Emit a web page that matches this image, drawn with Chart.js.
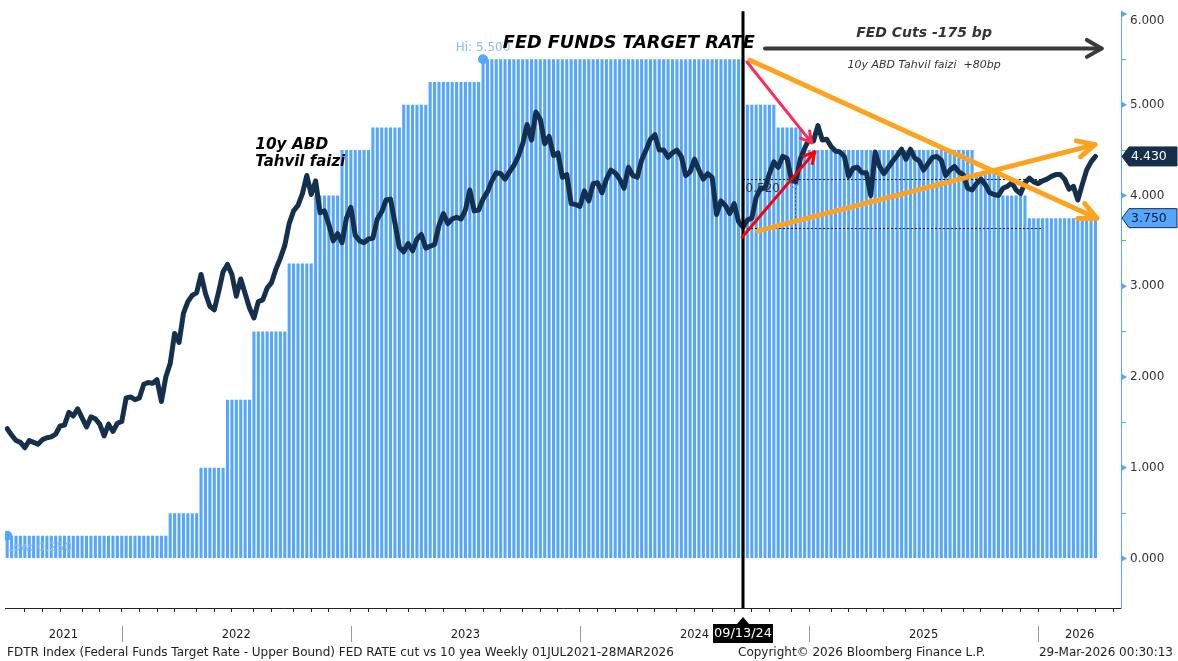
<!DOCTYPE html>
<html>
<head>
<meta charset="utf-8">
<title>FED RATE cut vs 10y</title>
<script src="https://cdn.jsdelivr.net/npm/chart.js@4.4.1/dist/chart.umd.min.js"></script>
<style>
  html, body { margin: 0; padding: 0; background: #fff; overflow: hidden; }
  #chart { display: block; }
</style>
</head>
<body>
<canvas id="chart" width="1178" height="661"></canvas>
<script>
// FDTR (upper bound) vs US 10y yield, weekly. Index 0 = 02JUL2021, index 247 = 27MAR2026

// Fed funds target rate - upper bound, one value per week
const FDTR_2021 = [
  0.25, 0.25, 0.25, 0.25, 0.25, 0.25, 0.25, 0.25, 0.25,
  0.25, 0.25, 0.25, 0.25, 0.25, 0.25, 0.25, 0.25, 0.25,
  0.25, 0.25, 0.25, 0.25, 0.25, 0.25, 0.25, 0.25, 0.25
];
const FDTR_2022 = [
  0.25, 0.25, 0.25, 0.25, 0.25, 0.25, 0.25, 0.25, 0.25, 0.25,
  0.5, 0.5, 0.5, 0.5, 0.5, 0.5, 0.5,
  1, 1, 1, 1, 1, 1,
  1.75, 1.75, 1.75, 1.75, 1.75, 1.75,
  2.5, 2.5, 2.5, 2.5, 2.5, 2.5, 2.5, 2.5,
  3.25, 3.25, 3.25, 3.25, 3.25, 3.25,
  4, 4, 4, 4, 4, 4,
  4.5, 4.5, 4.5
];
const FDTR_2023 = [
  4.5, 4.5, 4.5, 4.5,
  4.75, 4.75, 4.75, 4.75, 4.75, 4.75, 4.75,
  5, 5, 5, 5, 5, 5,
  5.25, 5.25, 5.25, 5.25, 5.25, 5.25, 5.25, 5.25, 5.25, 5.25, 5.25, 5.25,
  5.5, 5.5, 5.5, 5.5, 5.5, 5.5, 5.5, 5.5, 5.5, 5.5,
  5.5, 5.5, 5.5, 5.5, 5.5, 5.5, 5.5, 5.5, 5.5, 5.5,
  5.5, 5.5, 5.5
];
const FDTR_2024 = [
  5.5, 5.5, 5.5, 5.5, 5.5, 5.5, 5.5, 5.5, 5.5, 5.5,
  5.5, 5.5, 5.5, 5.5, 5.5, 5.5, 5.5, 5.5, 5.5, 5.5,
  5.5, 5.5, 5.5, 5.5, 5.5, 5.5, 5.5, 5.5, 5.5, 5.5,
  5.5, 5.5, 5.5, 5.5, 5.5, 5.5, 5.5,
  5, 5, 5, 5, 5, 5, 5,
  4.75, 4.75, 4.75, 4.75, 4.75, 4.75,
  4.5, 4.5
];
const FDTR_2025 = [
  4.5, 4.5, 4.5, 4.5, 4.5, 4.5, 4.5, 4.5, 4.5, 4.5,
  4.5, 4.5, 4.5, 4.5, 4.5, 4.5, 4.5, 4.5, 4.5, 4.5,
  4.5, 4.5, 4.5, 4.5, 4.5, 4.5, 4.5, 4.5, 4.5, 4.5,
  4.5, 4.5, 4.5, 4.5, 4.5, 4.5, 4.5,
  4.25, 4.25, 4.25, 4.25, 4.25, 4.25,
  4, 4, 4, 4, 4, 4,
  3.75, 3.75, 3.75
];
const FDTR_2026 = [3.75, 3.75, 3.75, 3.75, 3.75, 3.75, 3.75, 3.75, 3.75, 3.75, 3.75, 3.75, 3.75];

// 10y US Treasury yield ("10y ABD Tahvil faizi"), weekly close
const UST10Y_2021 = [
  1.43, 1.36, 1.30, 1.28, 1.22, 1.30, 1.28, 1.26, 1.31, 1.33, 1.34, 1.37, 1.46, 1.47,
  1.61, 1.57, 1.65, 1.55, 1.45, 1.56, 1.54, 1.48, 1.35, 1.48, 1.40, 1.49, 1.51
];
const UST10Y_2022 = [
  1.77, 1.78, 1.75, 1.77, 1.92, 1.94, 1.93, 1.97, 1.73, 2.00, 2.15, 2.48, 2.38,
  2.70, 2.83, 2.90, 2.93, 3.13, 2.92, 2.78, 2.74, 2.94, 3.16, 3.24, 3.13, 2.89,
  3.08, 2.92, 2.76, 2.65, 2.83, 2.85, 2.98, 3.04, 3.19, 3.31, 3.45, 3.69, 3.83,
  3.89, 4.02, 4.22, 4.01, 4.16, 3.81, 3.83, 3.68, 3.50, 3.58, 3.48, 3.75, 3.87
];
const UST10Y_2023 = [
  3.56, 3.50, 3.48, 3.52, 3.53, 3.74, 3.82, 3.95, 3.96, 3.70, 3.43, 3.38, 3.47,
  3.39, 3.52, 3.57, 3.42, 3.44, 3.46, 3.67, 3.80, 3.69, 3.74, 3.76, 3.74, 3.84,
  4.06, 3.83, 3.84, 3.96, 4.04, 4.16, 4.25, 4.24, 4.18, 4.26, 4.33, 4.43, 4.57,
  4.78, 4.61, 4.92, 4.84, 4.57, 4.65, 4.44, 4.47, 4.20, 4.23, 3.91, 3.90, 3.88
];
const UST10Y_2024 = [
  4.05, 3.94, 4.13, 4.14, 4.03, 4.18, 4.28, 4.25, 4.18, 4.08, 4.31, 4.22, 4.20,
  4.39, 4.50, 4.62, 4.67, 4.50, 4.50, 4.42, 4.47, 4.50, 4.43, 4.22, 4.26, 4.40,
  4.28, 4.18, 4.24, 4.20, 3.79, 3.94, 3.89, 3.80, 3.91, 3.71, 3.65, 3.73, 3.75,
  3.98, 4.08, 4.08, 4.24, 4.37, 4.31, 4.43, 4.41, 4.17, 4.15, 4.40, 4.52, 4.62
];
const UST10Y_2025 = [
  4.60, 4.77, 4.61, 4.62, 4.54, 4.49, 4.48, 4.43, 4.21, 4.30, 4.31, 4.25, 4.25,
  4.00, 4.48, 4.32, 4.24, 4.31, 4.38, 4.44, 4.51, 4.40, 4.51, 4.41, 4.38, 4.28,
  4.35, 4.42, 4.43, 4.39, 4.22, 4.28, 4.32, 4.26, 4.23, 4.08, 4.06, 4.13, 4.18,
  4.12, 4.03, 4.01, 4.00, 4.08, 4.10, 4.14, 4.06, 4.02, 4.14, 4.19, 4.15, 4.13
];
const UST10Y_2026 = [4.16, 4.18, 4.21, 4.23, 4.23, 4.18, 4.07, 4.10, 3.95, 4.12, 4.28, 4.37, 4.43];

const FDTR = [].concat(FDTR_2021, FDTR_2022, FDTR_2023, FDTR_2024, FDTR_2025, FDTR_2026);
const UST10Y = [].concat(UST10Y_2021, UST10Y_2022, UST10Y_2023, UST10Y_2024, UST10Y_2025, UST10Y_2026);

// x axis: month-end weeks (tick marks), year labels and year breaks, in week index
const MONTH_TICKS = [4, 8, 12, 17, 21, 26, 30, 34, 38, 43, 47, 51, 56, 60, 65, 69, 73, 78,
  82, 86, 91, 95, 99, 104, 108, 112, 117, 121, 125, 130, 134, 138, 143, 147, 152, 156,
  160, 165, 169, 173, 178, 182, 187, 191, 195, 199, 204, 208, 212, 217, 221, 226, 230,
  234, 239, 243, 247, 251];
const YEAR_LABELS = ['2021', '2022', '2023', '2024', '2025', '2026'];
const YEAR_LABEL_POS = [12.75, 52, 104, 156, 208, 243.4];
const YEAR_BREAKS = [26, 78, 130, 182, 234];
const Y_TICKS = [0, 0.5, 1, 1.5, 2, 2.5, 3, 3.5, 4, 4.5, 5, 5.5, 6];
const Y_TOP_LABEL = 6;      // drawn slightly below its tick, as Bloomberg does

const HI_POINT = { x: 108, y: 5.5 };
const LOW_POINT = { x: 0, y: 0.25 };
const CUT_WEEK = 167;       // 09/13/24
const CUT_LABEL = '09/13/24';
const LAST_YIELD = 4.43;
const LAST_FDTR = 3.75;

const NAVY = '#14304c';
const BLUE = '#55a6ff';
const ORANGE = '#ffa31f';
const FONT = '"DejaVu Sans"';

function arrow(ctx, x1, y1, x2, y2, color, width, head, spread) {
  ctx.save();
  ctx.strokeStyle = color;
  ctx.lineWidth = width;
  ctx.lineCap = 'round';
  ctx.lineJoin = 'round';
  ctx.beginPath();
  ctx.moveTo(x1, y1);
  ctx.lineTo(x2, y2);
  ctx.stroke();
  const a = Math.atan2(y2 - y1, x2 - x1);
  ctx.beginPath();
  ctx.moveTo(x2 - head * Math.cos(a - spread), y2 - head * Math.sin(a - spread));
  ctx.lineTo(x2, y2);
  ctx.lineTo(x2 - head * Math.cos(a + spread), y2 - head * Math.sin(a + spread));
  ctx.stroke();
  ctx.restore();
}

function text(ctx, str, x, y, font, color, align, maxW) {
  ctx.font = font;
  ctx.fillStyle = color;
  ctx.textAlign = align || 'left';
  ctx.textBaseline = 'middle';
  if (maxW) ctx.fillText(str, x, y, maxW);
  else ctx.fillText(str, x, y);
}

function valueTag(ctx, left, yPix, str, bg, fg) {
  const h = 19, right = 1177;
  ctx.save();
  ctx.beginPath();
  ctx.moveTo(left, yPix);
  ctx.lineTo(left + 7, yPix - h / 2);
  ctx.lineTo(right, yPix - h / 2);
  ctx.lineTo(right, yPix + h / 2);
  ctx.lineTo(left + 7, yPix + h / 2);
  ctx.closePath();
  ctx.fillStyle = bg;
  ctx.fill();
  ctx.strokeStyle = '#1d2d40';
  ctx.lineWidth = 1;
  ctx.stroke();
  text(ctx, str, left + 9, yPix + 0.5, '12.5px ' + FONT, fg, 'left');
  ctx.restore();
}

const annotations = {
  id: 'annotations',
  afterDatasetDraw(chart, args) {
    // Bloomberg measuring lines: above the bars, below the yield line
    if (args.meta.type !== 'bar') return;
    const { ctx } = chart;
    const x = v => chart.scales.x.getPixelForValue(v);
    const y = v => chart.scales.y.getPixelForValue(v);
    ctx.save();
    ctx.strokeStyle = '#111';
    ctx.lineWidth = 1;
    ctx.setLineDash([2, 2]);
    ctx.beginPath();
    ctx.moveTo(x(167), Math.round(y(4.18)) + 0.5);
    ctx.lineTo(x(235.1), Math.round(y(4.18)) + 0.5);
    ctx.moveTo(x(167), Math.round(y(3.64)) + 0.5);
    ctx.lineTo(x(235.1), Math.round(y(3.64)) + 0.5);
    ctx.stroke();
    ctx.strokeStyle = '#555';
    ctx.beginPath();
    ctx.moveTo(Math.round(x(178.8)) + 0.5, y(4.08));
    ctx.lineTo(Math.round(x(178.8)) + 0.5, y(3.64));
    ctx.stroke();
    ctx.beginPath();
    ctx.ellipse(x(178.8), y(4.13), 3, 5, 0, 0, Math.PI * 2);
    ctx.stroke();
    ctx.restore();
    text(ctx, '0.520', x(167.6), y(4.07), '12px ' + FONT, '#333', 'left');
  },
  afterDatasetsDraw(chart) {
    const { ctx, chartArea } = chart;
    const x = v => chart.scales.x.getPixelForValue(v);
    const y = v => chart.scales.y.getPixelForValue(v);

    // Hi / Low markers text
    text(ctx, 'Hi: 5.500', x(HI_POINT.x), y(HI_POINT.y) - 11, '12px ' + FONT, '#86bdf6', 'center');
    text(ctx, 'Low: 0.250', x(LOW_POINT.x) - 0.5, y(LOW_POINT.y) + 12, '12px ' + FONT, '#8dbef3', 'left');

    // vertical marker on the first cut
    ctx.save();
    ctx.fillStyle = '#000';
    ctx.fillRect(Math.round(x(CUT_WEEK)) - 1.5, chartArea.top, 3, chartArea.bottom - chartArea.top);
    ctx.restore();

    // arrows
    arrow(ctx, x(172), y(5.62), x(248.4), y(5.62), '#3a3a3a', 4, 17, 0.52);
    arrow(ctx, x(168.6), y(5.49), x(247.3), y(3.75), ORANGE, 5, 19, 0.45);
    arrow(ctx, x(170.4), y(3.61), x(246.9), y(4.56), ORANGE, 5, 19, 0.45);
    arrow(ctx, x(167.9), y(5.47), x(182.6), y(4.58), '#ff2b52', 3, 12, 0.5);
    arrow(ctx, x(166.8), y(3.54), x(183.3), y(4.48), '#ff0000', 3, 12, 0.5);

    // labels
    text(ctx, 'FED FUNDS TARGET RATE', x(141.1), y(5.68), 'italic bold 18px ' + FONT, '#000', 'center', 252);
    text(ctx, 'FED Cuts -175 bp', x(208.1), y(5.79), 'italic bold 14px ' + FONT, '#333', 'center', 138);
    text(ctx, '10y ABD Tahvil faizi  +80bp', x(208.1), y(5.44), 'italic 11px ' + FONT, '#333', 'center', 168);
    text(ctx, '10y ABD', x(56.3), y(4.56), 'italic bold 16px ' + FONT, '#000', 'left', 73);
    text(ctx, 'Tahvil faizi', x(56.3), y(4.37), 'italic bold 16px ' + FONT, '#000', 'left', 90);
  },
  afterDraw(chart) {
    const { ctx, chartArea } = chart;
    const x = v => chart.scales.x.getPixelForValue(v);
    const y = v => chart.scales.y.getPixelForValue(v);

    // year separators under the axis
    ctx.save();
    ctx.strokeStyle = '#9a9a9a';
    ctx.lineWidth = 1;
    YEAR_BREAKS.forEach(w => {
      const px = Math.round(x(w)) + 0.5;
      ctx.beginPath();
      ctx.moveTo(px, chartArea.bottom + 18);
      ctx.lineTo(px, chartArea.bottom + 34);
      ctx.stroke();
    });

    // right axis major tick arrows
    ctx.fillStyle = BLUE;
    Y_TICKS.filter(v => Number.isInteger(v)).forEach(v => {
      const py = y(v);
      ctx.beginPath();
      ctx.moveTo(chartArea.right, py - 3.5);
      ctx.lineTo(chartArea.right + 6, py);
      ctx.lineTo(chartArea.right, py + 3.5);
      ctx.closePath();
      ctx.fill();
    });
    ctx.restore();
    text(ctx, Y_TOP_LABEL.toFixed(3), chartArea.right + 9, y(Y_TOP_LABEL) + 6.5, '12px ' + FONT, '#333', 'left');

    // last value tags
    valueTag(ctx, chartArea.right + 1, y(LAST_YIELD), LAST_YIELD.toFixed(3), NAVY, '#fff');
    valueTag(ctx, chartArea.right + 1, y(LAST_FDTR), LAST_FDTR.toFixed(3), BLUE, '#0b1a2e');

    // date tag on the x axis
    const cx = Math.round(x(CUT_WEEK));
    const top = chartArea.bottom + 16;
    ctx.save();
    ctx.fillStyle = '#000';
    ctx.beginPath();
    ctx.moveTo(cx - 6, top);
    ctx.lineTo(cx, top - 7);
    ctx.lineTo(cx + 6, top);
    ctx.closePath();
    ctx.fill();
    ctx.fillRect(cx - 30, top, 60, 19);
    ctx.restore();
    text(ctx, CUT_LABEL, cx, top + 10, '13px ' + FONT, '#fff', 'center', 58);

    // footer
    const fy = 653;
    text(ctx, 'FDTR Index (Federal Funds Target Rate - Upper Bound) FED RATE cut vs 10 yea Weekly 01JUL2021-28MAR2026',
      7, fy, '12px ' + FONT, '#222', 'left', 685);
    text(ctx, 'Copyright\u00A9 2026 Bloomberg Finance L.P.', 738, fy, '12px ' + FONT, '#222', 'left', 250);
    text(ctx, '29-Mar-2026 00:30:13', 1173, fy, '12px ' + FONT, '#222', 'right', 137);
  }
};

Chart.defaults.font.family = FONT;

new Chart(document.getElementById('chart'), {
  type: 'bar',
  data: {
    datasets: [
      {
        type: 'line',
        label: '10y',
        data: UST10Y.map((v, i) => ({ x: i, y: v })),
        borderColor: NAVY,
        borderWidth: 5,
        borderJoinStyle: 'round',
        borderCapStyle: 'round',
        pointRadius: 0,
        tension: 0,
        order: 0
      },
      {
        type: 'line',
        label: 'Hi/Low',
        data: [HI_POINT, LOW_POINT],
        showLine: false,
        pointRadius: 5,
        pointBorderWidth: 0,
        pointBackgroundColor: BLUE,
        order: 1
      },
      {
        type: 'bar',
        label: 'FDTR',
        data: FDTR.map((v, i) => ({ x: i, y: v })),
        backgroundColor: BLUE,
        borderWidth: 0,
        barPercentage: 0.7,
        categoryPercentage: 1,
        order: 2
      }
    ]
  },
  options: {
    responsive: false,
    animation: false,
    events: [],
    layout: { padding: { left: 5, top: 9, right: 0, bottom: 0 } },
    plugins: { legend: { display: false }, tooltip: { enabled: false } },
    scales: {
      x: {
        type: 'linear',
        min: -0.5,
        max: 252.8,
        offset: false,
        afterBuildTicks: scale => {
          scale.ticks = MONTH_TICKS.map(v => ({ value: v }))
            .concat(YEAR_LABEL_POS.map((v, i) => ({ value: v, year: YEAR_LABELS[i] })));
        },
        afterFit: scale => { scale.height = 53; },
        grid: {
          drawOnChartArea: false,
          offset: false,
          tickLength: 4,
          tickColor: c => (c.tick && c.tick.year ? 'rgba(0,0,0,0)' : '#222')
        },
        border: { color: '#222', width: 1 },
        ticks: {
          autoSkip: false,
          maxRotation: 0,
          minRotation: 0,
          padding: 16,
          color: '#1a1a1a',
          font: { size: 11.5 },
          callback: (v, i, ticks) => ticks[i].year || ''
        }
      },
      y: {
        position: 'right',
        min: -0.545,
        max: 6.03,
        afterBuildTicks: scale => { scale.ticks = Y_TICKS.map(v => ({ value: v })); },
        afterFit: scale => { scale.width = 57; },
        grid: { drawOnChartArea: false, tickLength: 5, tickColor: BLUE },
        border: { color: BLUE, width: 1 },
        ticks: {
          padding: 4,
          color: '#333',
          font: { size: 12 },
          callback: v => (Number.isInteger(v) && v !== Y_TOP_LABEL ? v.toFixed(3) : '')
        }
      }
    }
  },
  plugins: [annotations]
});
</script>
</body>
</html>
